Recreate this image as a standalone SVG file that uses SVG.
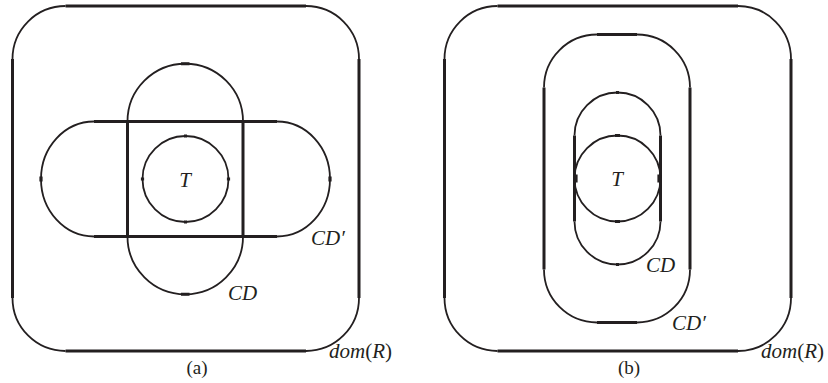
<svg xmlns="http://www.w3.org/2000/svg" width="828" height="383" viewBox="0 0 828 383">
<style>
.thin{fill:none;stroke:#231f20;stroke-width:1.8}
.thick{fill:none;stroke:#231f20;stroke-width:3}
.tick{fill:none;stroke:#231f20;stroke-width:3.2}
.lbl{font-family:"Liberation Serif","Times New Roman",serif;font-size:21px;font-style:italic;fill:#231f20}
.up{font-style:normal}
.cap{font-family:"Liberation Serif","Times New Roman",serif;font-size:19px;fill:#231f20;text-anchor:middle}
</style>
<rect width="828" height="383" fill="#fff"/>
<!-- Panel (a) -->
<g id="a-domR">
<path class="thick" d="M65.5,6H306M65.5,351H306M12.5,59V298M359,59V298"/>
<path class="thin" d="M12.5,59A53,53 0 0 1 65.5,6M306,6A53,53 0 0 1 359,59M359,298A53,53 0 0 1 306,351M65.5,351A53,53 0 0 1 12.5,298"/>
<text class="lbl" x="329" y="358">dom<tspan class="up">(</tspan>R<tspan class="up">)</tspan></text>
</g>
<g id="a-CDp">
<path class="thick" d="M94,121.5H277M94,236.5H277"/>
<path class="thin" d="M94,121.5A53,57.5 0 0 0 94,236.5M277,121.5A53,57.5 0 0 1 277,236.5"/>
<path class="tick" d="M41,176.5V181.5M330,176.5V181.5"/>
<text class="lbl" x="311" y="245">CD′</text>
</g>
<g id="a-CD">
<path class="thick" d="M127.5,121.5V236.5M243,121.5V236.5"/>
<path class="thin" d="M127.5,121.5A57.75,57.75 0 0 1 243,121.5M243,236.5A57.75,57.75 0 0 1 127.5,236.5"/>
<path class="tick" d="M181,63.75H189.5M181,294.25H189.5"/>
<text class="lbl" x="228" y="300">CD</text>
</g>
<g id="a-T">
<circle class="thin" cx="185.5" cy="179" r="43"/>
<path class="tick" d="M184,136H187M184,222H187M142.5,177.5V180.5M228.5,177.5V180.5"/>
<text class="lbl" x="185" y="187" text-anchor="middle">T</text>
</g>
<text class="cap" x="197" y="374">(a)</text>
<!-- Panel (b) -->
<g id="b-domR">
<path class="thick" d="M497.5,6H738M497.5,351H738M444.5,59V298M791,59V298"/>
<path class="thin" d="M444.5,59A53,53 0 0 1 497.5,6M738,6A53,53 0 0 1 791,59M791,298A53,53 0 0 1 738,351M497.5,351A53,53 0 0 1 444.5,298"/>
<text class="lbl" x="761" y="358">dom<tspan class="up">(</tspan>R<tspan class="up">)</tspan></text>
</g>
<g id="b-CDp">
<path class="thick" d="M597,34.5H637M597,322.5H637M544,87.5V269.5M690,87.5V269.5"/>
<path class="thin" d="M544,87.5A53,53 0 0 1 597,34.5M637,34.5A53,53 0 0 1 690,87.5M690,269.5A53,53 0 0 1 637,322.5M597,322.5A53,53 0 0 1 544,269.5"/>
<text class="lbl" x="672" y="330">CD′</text>
</g>
<g id="b-CD">
<path class="thick" d="M574.5,135.5V221.5M660.5,135.5V221.5"/>
<path class="thin" d="M574.5,135.5A43,43 0 0 1 660.5,135.5M660.5,221.5A43,43 0 0 1 574.5,221.5"/>
<path class="tick" d="M616,92.5H619M616,264.5H619"/>
<text class="lbl" x="646" y="272">CD</text>
</g>
<g id="b-T">
<circle class="thin" cx="617.5" cy="178.5" r="43"/>
<path class="tick" d="M615,135.5H620M615,221.5H620M576,174.5V182.5M659,174.5V182.5"/>
<text class="lbl" x="617" y="186" text-anchor="middle">T</text>
</g>
<text class="cap" x="629" y="374">(b)</text>
</svg>
